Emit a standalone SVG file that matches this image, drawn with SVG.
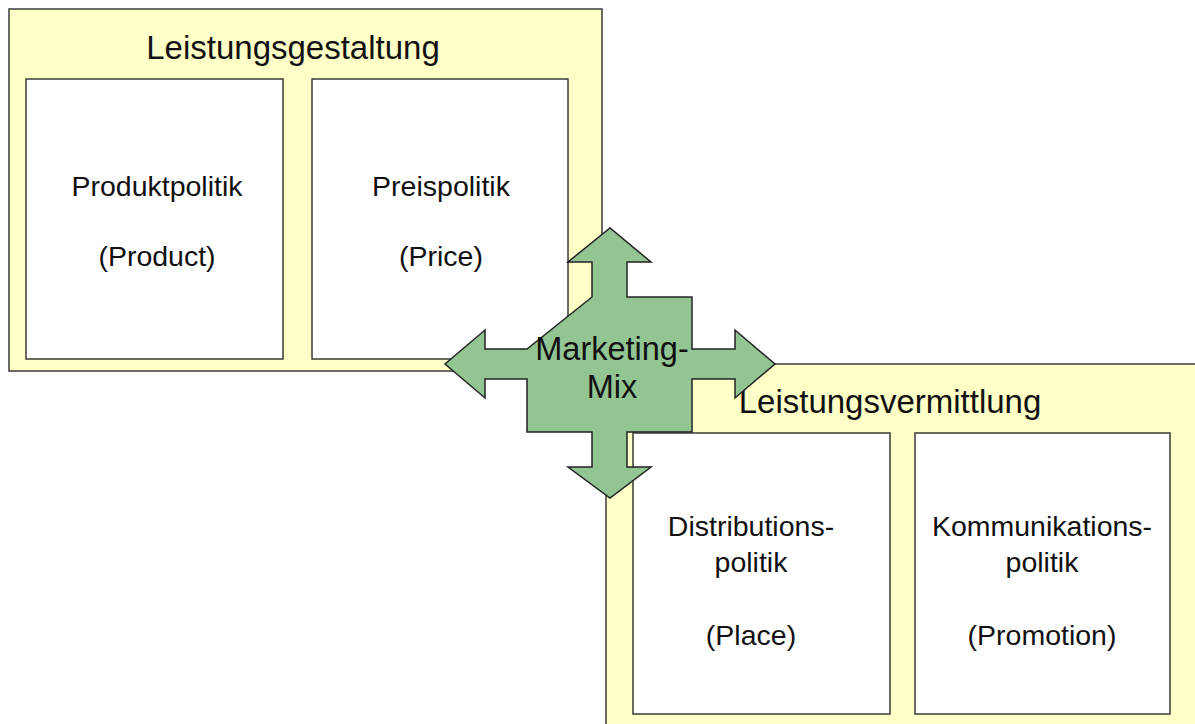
<svg xmlns="http://www.w3.org/2000/svg" width="1195" height="724" viewBox="0 0 1195 724">
  <style>
    .group { fill: #ffffc8; stroke: #3a3a3a; stroke-width: 1.5; }
    .card { fill: #ffffff; stroke: #3a3a3a; stroke-width: 1.5; }
    .title { font-family: "Liberation Sans", Arial, sans-serif; font-size: 33px; fill: #111; text-anchor: middle; }
    .mix { font-family: "Liberation Sans", Arial, sans-serif; font-size: 32.5px; fill: #111; text-anchor: middle; }
    .lbl { font-family: "Liberation Sans", Arial, sans-serif; font-size: 28.5px; fill: #111; text-anchor: middle; }
    .cross { fill: #93c593; stroke: #222; stroke-width: 1.5; stroke-linejoin: miter; }
  </style>
  <rect width="1195" height="724" fill="#ffffff"/>

  <g id="leistungsgestaltung">
    <rect class="group" x="9" y="9" width="593" height="362"/>
    <text class="title" x="293" y="59">Leistungsgestaltung</text>
  </g>
  <g id="produktpolitik">
    <rect class="card" x="26" y="79" width="257" height="280"/>
    <text class="lbl" x="157" y="196">Produktpolitik</text>
    <text class="lbl" x="157" y="266">(Product)</text>
  </g>
  <g id="preispolitik">
    <rect class="card" x="312" y="79" width="256" height="280"/>
    <text class="lbl" x="441" y="196">Preispolitik</text>
    <text class="lbl" x="441" y="266">(Price)</text>
  </g>

  <g id="leistungsvermittlung">
    <rect class="group" x="606" y="364" width="600" height="370"/>
    <text class="title" x="890" y="413">Leistungsvermittlung</text>
  </g>
  <g id="distributionspolitik">
    <rect class="card" x="633" y="433" width="257" height="281"/>
    <text class="lbl" x="751" y="536">Distributions-</text>
    <text class="lbl" x="751" y="572">politik</text>
    <text class="lbl" x="751" y="645">(Place)</text>
  </g>
  <g id="kommunikationspolitik">
    <rect class="card" x="915" y="433" width="255" height="281"/>
    <text class="lbl" x="1042" y="536">Kommunikations-</text>
    <text class="lbl" x="1042" y="572">politik</text>
    <text class="lbl" x="1042" y="645">(Promotion)</text>
  </g>

  <g id="connectors">
    <path class="cross" d="M592,297 L592,262 L568,262 L610,228 L651,262 L627,262 L627,297 L692,297 L692,349 L735,349 L735,330 L775,364 L735,398 L735,379 L692,379 L692,432 L627,432 L627,467 L651,467 L610,498 L568,467 L592,467 L592,432 L527,432 L527,379 L485,379 L485,398 L445,364 L485,330 L485,349 L527,349 Z"/>
  </g>
  <g id="marketing-mix">
    <text class="mix" x="612" y="360">Marketing-</text>
    <text class="mix" x="612" y="398">Mix</text>
  </g>
</svg>
